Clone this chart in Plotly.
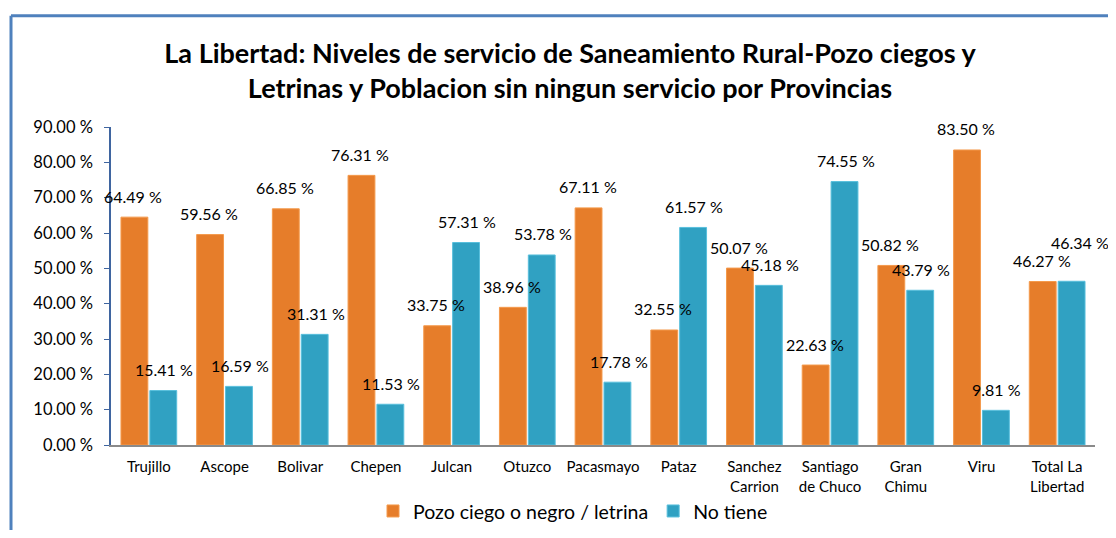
import plotly.graph_objects as go

categories = ["Trujillo", "Ascope", "Bolivar", "Chepen", "Julcan", "Otuzco", "Pacasmayo",
              "Pataz", "Sanchez<br>Carrion", "Santiago<br>de Chuco", "Gran<br>Chimu", "Viru",
              "Total La<br>Libertad"]
pozo = [64.49, 59.56, 66.85, 76.31, 33.75, 38.96, 67.11, 32.55, 50.07, 22.63, 50.82, 83.50, 46.27]
no_tiene = [15.41, 16.59, 31.31, 11.53, 57.31, 53.78, 17.78, 61.57, 45.18, 74.55, 43.79, 9.81, 46.34]
series_names = ["Pozo ciego o negro / letrina", "No tiene"]
y_ticks = [0, 10, 20, 30, 40, 50, 60, 70, 80, 90]

ORANGE = "#E67D2A"
BLUE = "#30A1C2"
FONT = "Lato"

# page has an 8px body margin: work in page pixels and convert
OFF = 8
PAGE_W, PAGE_H = 1116, 538
W, H = PAGE_W - 2 * OFF, PAGE_H - 2 * OFF
plot_left, plot_right, plot_top, plot_bottom = 111, 1095, 126.5, 445.5
L = plot_left - OFF
R = W - (plot_right - OFF)
T = plot_top - OFF
B = H - (plot_bottom - OFF)
pw = plot_right - plot_left
ph = plot_bottom - plot_top
fx = lambda px: (px - plot_left) / pw
fy = lambda py: (plot_bottom - py) / ph

fig = go.Figure()
fig.add_trace(go.Bar(x=categories, y=pozo, name=series_names[0], marker_color=ORANGE,
                     marker_line=dict(color="#F49A4C", width=1)))
fig.add_trace(go.Bar(x=categories, y=no_tiene, name=series_names[1], marker_color=BLUE,
                     marker_line=dict(color="#58BFDC", width=1)))

annotations = []
n = len(categories)
for i, (c, v) in enumerate(zip(categories, pozo)):
    annotations.append(dict(x=c, y=v, xref="x", yref="y", text=f"{v:.2f} %", showarrow=False,
                            xshift=-15.5, yshift=21, font=dict(family=FONT, size=16, color="#000")))
for i, (c, v) in enumerate(zip(categories, no_tiene)):
    # last label nudged to avoid collision with its neighbour (as in the source)
    xs, ys = (23, 39) if i == n - 1 else (15.5, 21)
    annotations.append(dict(x=c, y=v, xref="x", yref="y", text=f"{v:.2f} %", showarrow=False,
                            xshift=xs, yshift=ys, font=dict(family=FONT, size=16, color="#000")))

shapes = [
    dict(type="line", xref="paper", yref="paper", x0=fx(11), x1=fx(1140), y0=fy(15), y1=fy(15),
         line=dict(color="#4F81BD", width=3)),
    dict(type="line", xref="paper", yref="paper", x0=fx(11), x1=fx(11), y0=fy(15), y1=fy(580),
         line=dict(color="#4F81BD", width=3)),
]

fig.update_layout(
    width=W, height=H,
    margin=dict(l=L, r=R, t=T, b=B, autoexpand=False),
    paper_bgcolor="white", plot_bgcolor="white",
    title=dict(text="<b>La Libertad: Niveles de servicio de Saneamiento Rural-Pozo ciegos y<br>Letrinas y Poblacion sin ningun servicio por Provincias</b>",
               x=(570 - OFF) / W, xanchor="center", y=1 - (62.5 - OFF) / H, yanchor="middle",
               font=dict(family=FONT, size=27, color="#000")),
    barmode="group", bargap=0.237, bargroupgap=0.07,
    showlegend=True,
    legend=dict(orientation="h", x=fx(573), xanchor="center", y=fy(512), yanchor="middle",
                font=dict(family=FONT, size=19.5, color="#000"),
                traceorder="normal"),
    font=dict(family=FONT, color="#000"),
    annotations=annotations,
    shapes=shapes,
)
fig.update_xaxes(range=[-0.5, n - 0.5], autorange=False,
                 showline=True, linecolor="#8A8A8A", linewidth=2, showgrid=False, ticks="",
                 ticklabelstandoff=7,
                 tickfont=dict(family=FONT, size=15, color="#000"), tickangle=0)
fig.update_yaxes(range=[0, 90], autorange=False, tickvals=y_ticks,
                 ticktext=[f"{t:.2f} %" for t in y_ticks],
                 showline=True, linecolor="#3F65A0", linewidth=1.5, showgrid=False, zeroline=False,
                 ticks="outside", ticklen=5, tickcolor="#3F65A0", ticklabelstandoff=8,
                 tickfont=dict(family=FONT, size=16.5, color="#000"))

fig.write_html("out.html")
